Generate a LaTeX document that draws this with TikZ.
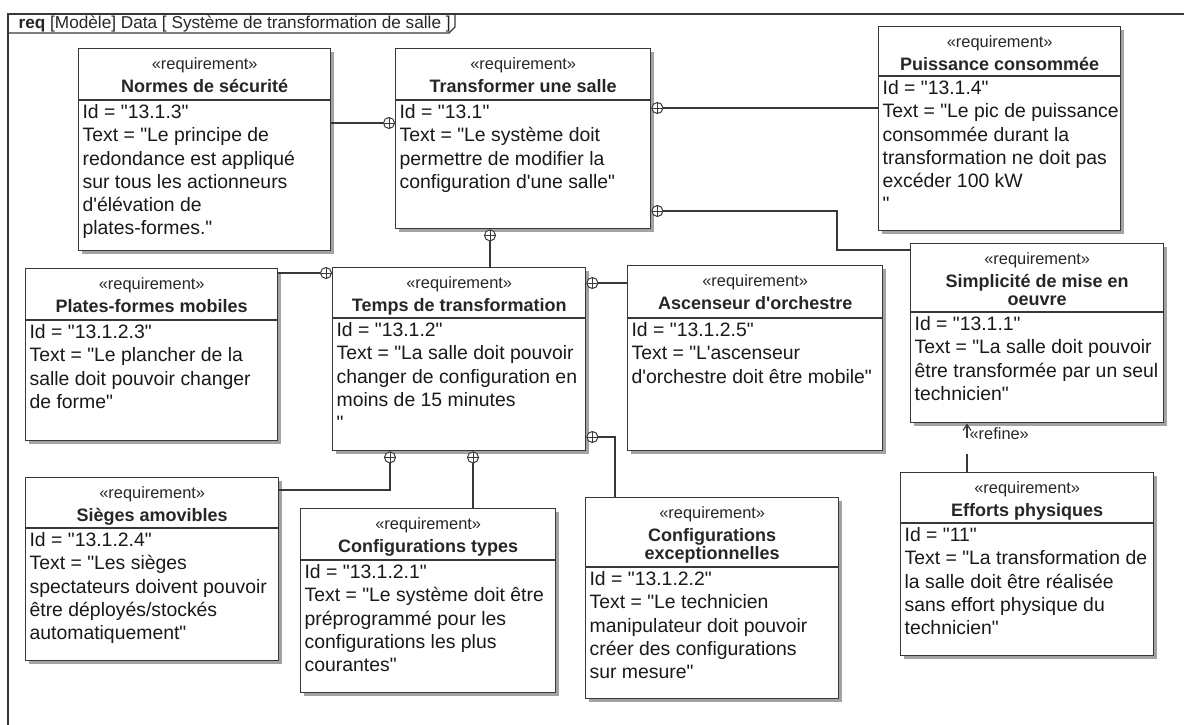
\documentclass[tikz,border=0pt]{standalone}
\usepackage{fontspec}
\setmainfont{Liberation Sans}[Ligatures=TeXOff]
\usetikzlibrary{positioning,shadows,arrows.meta}

\definecolor{linegray}{gray}{0.22}
\definecolor{shadowgray}{gray}{0.55}

% requirement box: name, x, y, width, height, separator, title, text
\newcommand{\reqbox}[8]{%
  \node[reqbox, minimum width=#4*0.5pt, minimum height=#5*0.5pt] (#1) at (#2,#3) {};
  \node[stereo] (#1-st) at ([yshift=-10.5pt]#1.north) {«requirement»};
  \node[reqtitle] (#1-ti) at ([yshift=-22pt]#1.north) {\begin{tabular}[t]{@{}c@{}}#7\end{tabular}};
  \draw[linegray, line width=0.6pt] (#2,#3+#6) -- (#2+#4,#3+#6);
  \node[reqtext] (#1-tx) at (#2,#3+#6) {#8};
}

\begin{document}
\begin{tikzpicture}[x=0.5pt, y=-0.5pt, line width=0.6pt,
  reqbox/.style={draw=linegray, fill=white, anchor=north west, inner sep=0pt, line width=0.7pt,
    drop shadow={shadow xshift=1.5pt, shadow yshift=-1.5pt, fill=shadowgray, opacity=0.8}},
  stereo/.style={anchor=base, inner sep=0pt, text=black!85, font=\fontsize{8.2}{10}\selectfont},
  reqtitle/.style={anchor=base, inner sep=0pt, text=black!85, font=\fontsize{9}{9.1}\selectfont\bfseries},
  reqtext/.style={anchor=north west, inner sep=2pt, align=left, text=black!90, font=\fontsize{9.7}{11.6}\selectfont},
  own/.style={circle, draw=linegray, fill=white, inner sep=0pt, minimum size=5.5pt, line width=0.5pt,
    path picture={\draw[linegray, line width=0.5pt]
      (path picture bounding box.north) -- (path picture bounding box.south)
      (path picture bounding box.west) -- (path picture bounding box.east);}},
  link/.style={draw=linegray, line width=0.6pt},
  refine/.style={draw=linegray, line width=0.6pt, dash pattern=on 9pt off 8pt, -{Straight Barb[length=3pt, width=4pt]}}]

  \useasboundingbox (0,0) rectangle (1184,724);
  \clip (0,0) rectangle (1184,724);

  % frame
  \draw[linegray, line width=0.7pt] (8,740) -- (8,14) -- (1200,14);
  \draw[linegray, line width=0.7pt] (8,33) -- (449,33) -- (455,27) -- (455,14);
  \node[anchor=base west, inner sep=0pt, text=black!85, font=\fontsize{8.6}{10}\selectfont] (hdr) at (18,28)
    {\textbf{req} [Modèle] Data [ Système de transformation de salle ]};

  % requirements
  \reqbox{norm}{78}{48}{252}{202}{52}{Normes de sécurité}
    {Id = "13.1.3"\\Text = "Le principe de\\redondance est appliqué\\sur tous les actionneurs\\d'élévation de\\plates-formes."}
  \reqbox{trans}{395}{48}{255}{180}{52}{Transformer une salle}
    {Id = "13.1"\\Text = "Le système doit\\permettre de modifier la\\configuration d'une salle"}
  \reqbox{puis}{878}{26}{242}{204}{50}{Puissance consommée}
    {Id = "13.1.4"\\Text = "Le pic de puissance\\consommée durant la\\transformation ne doit pas\\excéder 100 kW\\"}
  \reqbox{simp}{910}{243}{253}{179}{69}{Simplicité de mise en\\oeuvre}
    {Id = "13.1.1"\\Text = "La salle doit pouvoir\\être transformée par un seul\\technicien"}
  \reqbox{plates}{25}{268}{252}{172}{52}{Plates-formes mobiles}
    {Id = "13.1.2.3"\\Text = "Le plancher de la\\salle doit pouvoir changer\\de forme"}
  \reqbox{temps}{332}{267}{253}{183}{51}{Temps de transformation}
    {Id = "13.1.2"\\Text = "La salle doit pouvoir\\changer de configuration en\\moins de 15 minutes\\"}
  \reqbox{asc}{627}{265}{255}{185}{53}{Ascenseur d'orchestre}
    {Id = "13.1.2.5"\\Text = "L'ascenseur\\d'orchestre doit être mobile"}
  \reqbox{sieges}{25}{477}{253}{183}{51}{Sièges amovibles}
    {Id = "13.1.2.4"\\Text = "Les sièges\\spectateurs doivent pouvoir\\être déployés/stockés\\automatiquement"}
  \reqbox{types}{300}{508}{255}{184}{52}{Configurations types}
    {Id = "13.1.2.1"\\Text = "Le système doit être\\préprogrammé pour les\\configurations les plus\\courantes"}
  \reqbox{excep}{585}{497}{253}{201}{70}{Configurations\\exceptionnelles}
    {Id = "13.1.2.2"\\Text = "Le technicien\\manipulateur doit pouvoir\\créer des configurations\\sur mesure"}
  \reqbox{eff}{900}{472}{253}{183}{51}{Efforts physiques}
    {Id = "11"\\Text = "La transformation de\\la salle doit être réalisée\\sans effort physique du\\technicien"}

  % containment
  \node[own, anchor=east] (o1) at (trans.west |- 0,123) {};
  \draw[link] (norm.east |- o1) -- (o1);
  \node[own, anchor=west] (o2) at (trans.east |- 0,108) {};
  \draw[link] (o2) -- (puis.west |- o2);
  \node[own, anchor=west] (o3) at (trans.east |- 0,211) {};
  \draw[link] (o3) -| (837,250) -- (simp.west |- 0,250);
  \node[own, anchor=north] (o4) at (trans.south -| 490,0) {};
  \draw[link] (o4) -- (temps.north -| o4);
  \node[own, anchor=east] (o5) at (temps.west |- 0,273) {};
  \draw[link] (plates.east |- o5) -- (o5);
  \node[own, anchor=west] (o6) at (temps.east |- 0,283) {};
  \draw[link] (o6) -- (asc.west |- o6);
  \node[own, anchor=west] (o7) at (temps.east |- 0,437) {};
  \draw[link] (o7) -| (excep.north -| 615,0);
  \node[own, anchor=north] (o8) at (temps.south -| 390,0) {};
  \draw[link] (o8) |- (sieges.east |- 0,490);
  \node[own, anchor=north] (o9) at (temps.south -| 473,0) {};
  \draw[link] (o9) -- (types.north -| o9);

  % refine
  \draw[refine] (eff.north -| 967,0) -- (simp.south -| 967,0)
    node[pos=1, anchor=north west, inner sep=0pt, xshift=1pt, yshift=-2pt, text=black!85,
      font=\fontsize{8.2}{10}\selectfont] (ref) {«refine»};

\end{tikzpicture}
\end{document}
